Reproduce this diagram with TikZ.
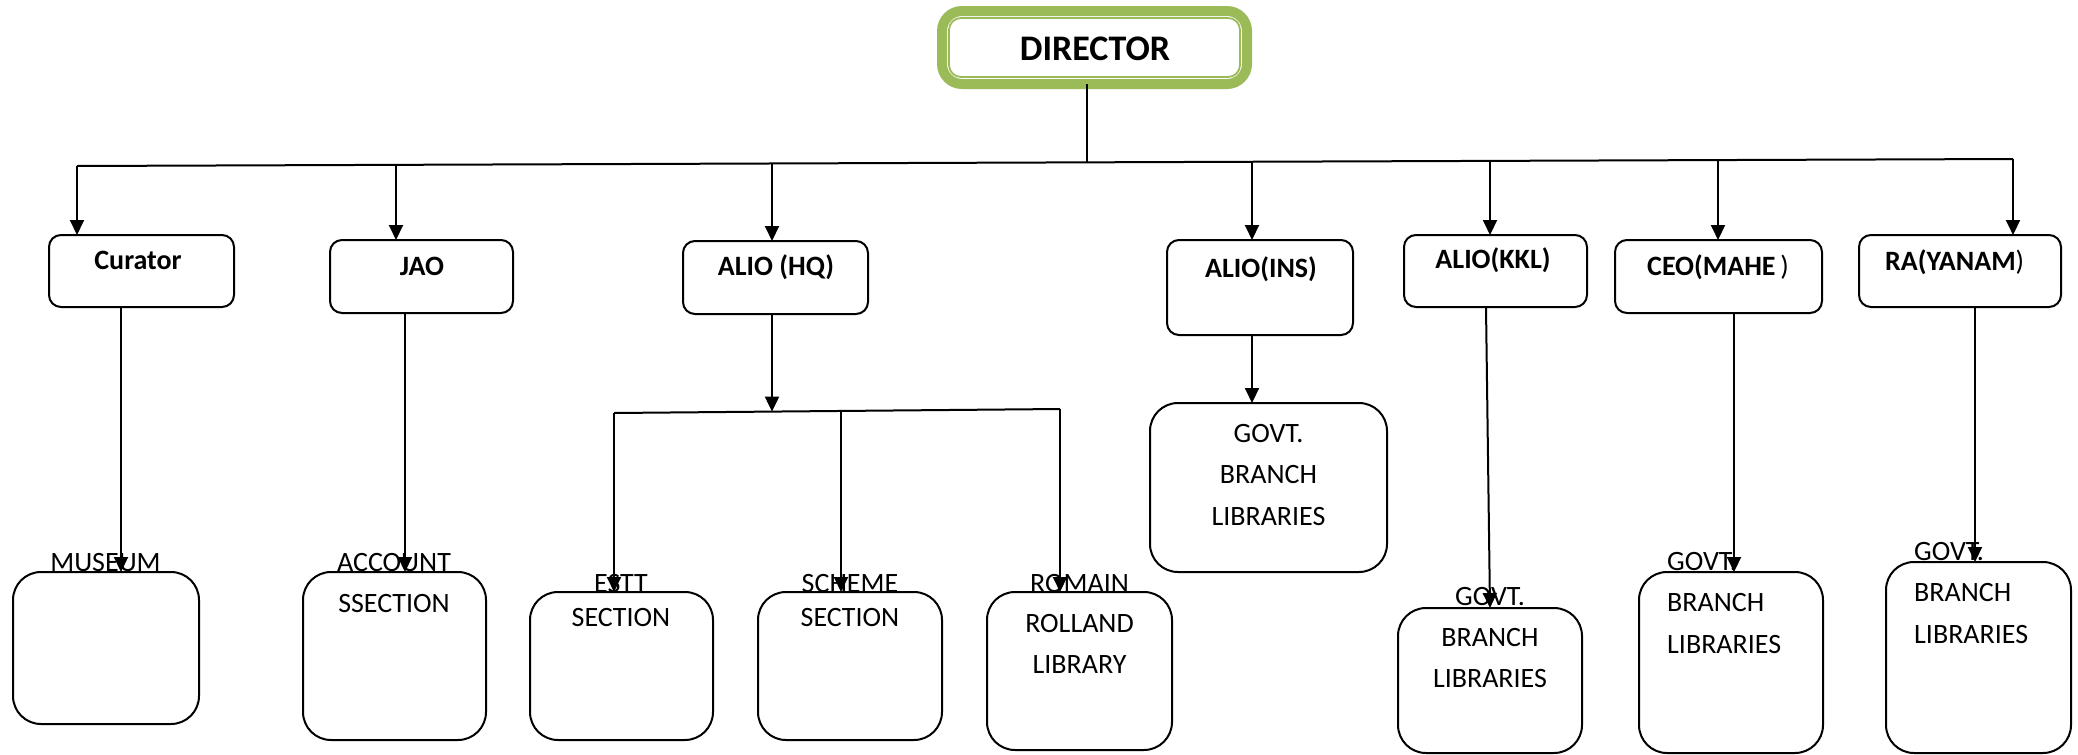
\documentclass[tikz,border=0pt]{standalone}
\usepackage{fontspec}
\setmainfont{Carlito}
\usetikzlibrary{arrows.meta}
\definecolor{dirgreen}{HTML}{9BBB59}
\tikzset{
  ln/.style={line width=2pt, draw=black},
  arr/.style={ln, -{Triangle[width=14pt,length=15pt]}},
  boxA/.style={draw, line width=2pt, rounded corners=12pt, inner sep=0pt, outer sep=0pt},
  boxB/.style={draw, line width=2pt, rounded corners=28pt, inner sep=0pt, outer sep=0pt},
  headtxt/.style={font=\bfseries\fontsize{28}{34}\selectfont, anchor=base, inner sep=0pt},
  lbl/.style={font=\fontsize{28}{41.5}\selectfont, anchor=base, inner sep=0pt, align=center},
  lbltight/.style={font=\fontsize{28}{34}\selectfont, anchor=base, inner sep=0pt, align=center},
  lblleft/.style={font=\fontsize{28}{41.5}\selectfont, anchor=base west, inner sep=0pt, align=left},
}
\begin{document}
\begin{tikzpicture}[x=1pt,y=-1pt]
\useasboundingbox (0,0) rectangle (2078,755);
% director
\node[draw=dirgreen, line width=10pt, rounded corners=20pt, inner sep=0pt, outer sep=0pt,
      minimum width=305pt, minimum height=73pt] (director) at (1094.5,47.5) {};
\draw[dirgreen, line width=1.8pt, rounded corners=12pt]
  ([shift={(7pt,-7pt)}]director.north west) rectangle ([shift={(-7pt,7pt)}]director.south east);
\node[font=\bfseries\fontsize{36}{40}\selectfont, anchor=base, inner sep=0pt] (dirtxt) at (1095,60) {DIRECTOR};

% level 1 boxes
\node[boxA, minimum width=185pt, minimum height=72pt] (curator) at (141.5,271) {};
\node[boxA, minimum width=183pt, minimum height=73pt] (jao) at (421.5,276.5) {};
\node[boxA, minimum width=185pt, minimum height=73pt] (hq) at (775.5,277.5) {};
\node[boxA, minimum width=186pt, minimum height=95pt] (ins) at (1260,287.5) {};
\node[boxA, minimum width=183pt, minimum height=72pt] (kkl) at (1495.5,271) {};
\node[boxA, minimum width=207pt, minimum height=73pt] (ceo) at (1718.5,276.5) {};
\node[boxA, minimum width=202pt, minimum height=72pt] (ra) at (1960,271) {};

\node[headtxt] (curatortxt) at (138,269) {Curator};
\node[headtxt] (jaotxt) at (422,275) {JAO};
\node[headtxt] (hqtxt) at (776,275) {ALIO (HQ)};
\node[headtxt] (instxt) at (1261,277) {ALIO(INS)};
\node[headtxt] (kkltxt) at (1493,268) {ALIO(KKL)};
\node[headtxt, anchor=base west] (ceotxt) at (1647,275) {CEO(MAHE\,{\mdseries )}};
\node[headtxt, anchor=base west] (ratxt) at (1885,270) {RA(YANAM{\mdseries )}};

% level 2 boxes
\node[boxB, minimum width=186pt, minimum height=152pt] (museum) at (106,648) {};
\node[boxB, minimum width=183pt, minimum height=168pt] (account) at (394.5,656) {};
\node[boxB, minimum width=183pt, minimum height=148pt] (estt) at (621.5,666) {};
\node[boxB, minimum width=184pt, minimum height=148pt] (scheme) at (850,666) {};
\node[boxB, minimum width=185pt, minimum height=158pt] (romain) at (1079.5,671) {};
\node[boxB, minimum width=237pt, minimum height=169pt] (govins) at (1268.5,487.5) {};
\node[boxB, minimum width=184pt, minimum height=145pt] (govkkl) at (1490,680.5) {};
\node[boxB, minimum width=184pt, minimum height=181pt] (govmahe) at (1731,662.5) {};
\node[boxB, minimum width=185pt, minimum height=191pt] (govyanam) at (1978.5,657.5) {};

% (anchor base = baseline of the last line)
\node[lbl] (museumtxt) at (105.5,571) {MUSEUM};
\node[lbl] (accounttxt) at (394,612.5) {ACCOUNT\\SSECTION};
\node[lbltight] (estttxt) at (621,626) {ESTT\\SECTION};
\node[lbltight] (schemetxt) at (850,626) {SCHEME\\SECTION};
\node[lbl, font=\fontsize{28}{40.5}\selectfont] (romaintxt) at (1079.5,673) {ROMAIN\\ROLLAND\\LIBRARY};
\node[lbl] (govinstxt) at (1268.5,525) {GOVT.\\BRANCH\\LIBRARIES};
\node[lbl, font=\fontsize{28}{41}\selectfont] (govkkltxt) at (1490,687) {GOVT.\\BRANCH\\LIBRARIES};
\node[lblleft] (govmahetxt) at (1667,653) {GOVT.\\BRANCH\\LIBRARIES};
\node[lblleft] (govyanamtxt) at (1914,643) {GOVT.\\BRANCH\\LIBRARIES};

% main bus
\coordinate (b1) at (77,166);
\coordinate (b2) at (396,164.8);
\coordinate (b3) at (772,163.5);
\coordinate (b4) at (1252,161.8);
\coordinate (b5) at (1490,160.9);
\coordinate (b6) at (1718,160.1);
\coordinate (b7) at (2013,159);
\coordinate (dstem) at (1087,163.3);
\draw[ln] (b1) -- (b7);
\draw[ln] (dstem |- director.south) -- (dstem);
\draw[arr] (b1) -- (b1 |- curator.north);
\draw[arr] (b2) -- (b2 |- jao.north);
\draw[arr] (b3) -- (b3 |- hq.north);
\draw[arr] (b4) -- (b4 |- ins.north);
\draw[arr] (b5) -- (b5 |- kkl.north);
\draw[arr] (b6) -- (b6 |- ceo.north);
\draw[arr] (b7) -- (b7 |- ra.north);

% level 1 -> level 2
\coordinate (c1) at (121,0);
\coordinate (c2) at (405,0);
\coordinate (c4) at (1252,0);
\coordinate (k1) at (1486,0);
\coordinate (k2) at (1490,0);
\coordinate (c6) at (1734,0);
\coordinate (c7) at (1975,0);
\draw[arr] (c1 |- curator.south) -- (c1 |- museum.north);
\draw[arr] (c2 |- jao.south) -- (c2 |- account.north);
\draw[arr] (c4 |- ins.south) -- (c4 |- govins.north);
\draw[arr] (k1 |- kkl.south) -- (k2 |- govkkl.north);
\draw[arr] (c6 |- ceo.south) -- (c6 |- govmahe.north);
\draw[arr] (c7 |- ra.south) -- (c7 |- govyanam.north);

% HQ sub-bus
\coordinate (sbL) at (614,413);
\coordinate (sbM) at (772,411.6);
\coordinate (sbS) at (841,411);
\coordinate (sbR) at (1060,409);
\draw[arr] (sbM |- hq.south) -- (sbM);
\draw[ln] (sbL) -- (sbR);
\draw[arr] (sbL) -- (sbL |- estt.north);
\draw[arr] (sbS) -- (sbS |- scheme.north);
\draw[arr] (sbR) -- (sbR |- romain.north);
\end{tikzpicture}
\end{document}
